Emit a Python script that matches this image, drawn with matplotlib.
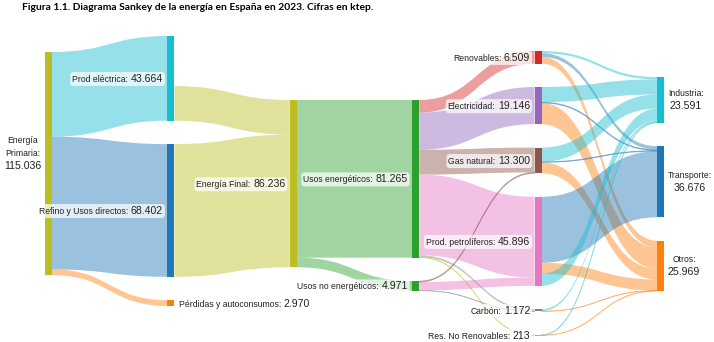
import matplotlib
matplotlib.use('Agg')
import matplotlib.pyplot as plt
from matplotlib.path import Path
from matplotlib.patches import PathPatch, Rectangle, FancyBboxPatch

TITLE = 'Figura 1.1. Diagrama Sankey de la energía en España en 2023. Cifras en ktep.'

node_names = ['Energía Primaria', 'Prod eléctrica', 'Refino y Usos directos',
              'Pérdidas y autoconsumos', 'Energía Final', 'Usos energéticos',
              'Usos no energéticos', 'Renovables', 'Electricidad', 'Gas natural',
              'Prod. petrolíferos', 'Carbón', 'Res. No Renovables',
              'Industria', 'Transporte', 'Otros']
node_column = [0, 1, 1, 1, 2, 3, 3, 4, 4, 4, 4, 4, 4, 5, 5, 5]
node_colors = ['#bcbd22', '#17becf', '#1f77b4', '#ff7f0e', '#bcbd22', '#2ca02c',
               '#2ca02c', '#d62728', '#9467bd', '#8c564b', '#e377c2', '#7f7f7f',
               '#bcbd22', '#17becf', '#1f77b4', '#ff7f0e']

# flows in ktep, listed source by source in the order they leave each node
link_source = [0, 0, 0, 1, 2, 4, 4,
               5, 5, 5, 5, 5, 5, 6, 6, 6,
               7, 7, 7, 8, 8, 8, 9, 9, 9, 10, 10, 10, 11, 11, 12, 12]
link_target = [1, 2, 3, 4, 4, 5, 6,
               7, 8, 9, 10, 11, 12, 9, 10, 11,
               13, 14, 15, 13, 14, 15, 13, 14, 15, 14, 15, 13, 13, 15, 13, 15]
link_value = [43664, 68402, 2970, 17834, 68402, 81265, 4971,
              6509, 19146, 12800, 41597, 1000, 213, 500, 4299, 172,
              1200, 1850, 3459, 7800, 450, 10896, 7300, 350, 5650,
              34026, 5670, 6200, 1000, 172, 91, 122]

# how each node's label is laid out
label_mode = ['stack_left', 'left', 'left', 'right', 'left', 'left', 'left',
              'left', 'left', 'left', 'left', 'left', 'left',
              'stack_right', 'stack_right', 'stack_right']
label_text = {0: ['Energía', 'Primaria:'], 13: ['Industria:'],
              14: ['Transporte:'], 15: ['Otros:']}

W, H = 714, 342
X0, DX, NW = 45, 122.4, 7
K = 1.94 / 1000
PAD = 23.4
col_top = [52, 36, 100, 100, 51, 77]

FONT = 'Liberation Sans'
NAME_SIZE, VALUE_SIZE = 6.2, 7.6
TXT = '#222222'


def fmt(v):
    return f'{v:,}'.replace(',', '.')


n = len(node_names)
inflow = [0] * n
outflow = [0] * n
for s, t, v in zip(link_source, link_target, link_value):
    outflow[s] += v
    inflow[t] += v
node_value = [max(a, b) for a, b in zip(inflow, outflow)]

node_x = [X0 + c * DX for c in node_column]
node_y = [0.0] * n
cursor = {}
for i in range(n):
    c = node_column[i]
    y = cursor.get(c, col_top[c])
    node_y[i] = y
    cursor[c] = y + node_value[i] * K + PAD

fig = plt.figure(figsize=(W / 100, H / 100), dpi=100)
ax = fig.add_axes([0, 0, 1, 1])
ax.set_xlim(0, W)
ax.set_ylim(H, 0)
ax.axis('off')

# links
out_pos = [node_y[i] + (node_value[i] - outflow[i]) * K for i in range(n)]
in_pos = node_y[:]
codes = [Path.MOVETO, Path.CURVE4, Path.CURVE4, Path.CURVE4, Path.LINETO,
         Path.CURVE4, Path.CURVE4, Path.CURVE4, Path.CLOSEPOLY]
for s, t, v in zip(link_source, link_target, link_value):
    h = v * K
    x0, x1 = node_x[s] + NW, node_x[t]
    y0, y1 = out_pos[s], in_pos[t]
    out_pos[s] += h
    in_pos[t] += h
    xm = (x0 + x1) / 2
    verts = [(x0, y0), (xm, y0), (xm, y1), (x1, y1), (x1, y1 + h),
             (xm, y1 + h), (xm, y0 + h), (x0, y0 + h), (x0, y0)]
    lw = 0.5 if h < 1.5 else 0
    ax.add_patch(PathPatch(Path(verts, codes), fc=node_colors[t], ec=node_colors[t],
                           lw=lw, alpha=0.45, zorder=1))

# nodes
for i in range(n):
    ax.add_patch(Rectangle((node_x[i], node_y[i]), NW, max(node_value[i] * K, 0.8),
                           fc=node_colors[i], ec='none', zorder=2))

fig.canvas.draw()
renderer = fig.canvas.get_renderer()
inv = ax.transData.inverted()


def extent(t):
    bb = t.get_window_extent(renderer)
    (xa, ya), (xb, yb) = inv.transform([(bb.x0, bb.y0), (bb.x1, bb.y1)])
    return min(xa, xb), max(xa, xb), min(ya, yb), max(ya, yb)


def add_box(exts):
    xa = min(e[0] for e in exts)
    xb = max(e[1] for e in exts)
    ya = min(e[2] for e in exts)
    yb = max(e[3] for e in exts)
    ax.add_patch(FancyBboxPatch((xa, ya), xb - xa, yb - ya,
                                boxstyle='round,pad=2,rounding_size=3',
                                fc='white', ec='none', alpha=0.72, zorder=3))


for i in range(n):
    cy = node_y[i] + node_value[i] * K / 2
    mode = label_mode[i]
    val = fmt(node_value[i])
    if mode in ('left', 'right'):
        base = cy + 3.6
        if mode == 'left':
            xa = node_x[i] - 4.5
            tv = ax.text(xa, base, val, ha='right', va='baseline', family=FONT,
                         fontsize=VALUE_SIZE, color=TXT, zorder=4)
            ev = extent(tv)
            tn = ax.text(ev[0] - 2.5, base, node_names[i] + ':', ha='right',
                         va='baseline', family=FONT, fontsize=NAME_SIZE,
                         color=TXT, zorder=4)
        else:
            xa = node_x[i] + NW + 4.5
            tn = ax.text(xa, base, node_names[i] + ':', ha='left', va='baseline',
                         family=FONT, fontsize=NAME_SIZE, color=TXT, zorder=4)
            en = extent(tn)
            tv = ax.text(en[1] + 2.5, base, val, ha='left', va='baseline',
                         family=FONT, fontsize=VALUE_SIZE, color=TXT, zorder=4)
        add_box([extent(tv), extent(tn)])
    else:
        lines = label_text[i] + [val]
        sizes = [NAME_SIZE] * (len(lines) - 1) + [VALUE_SIZE]
        step = 12.5
        top = cy - step * (len(lines) - 1) / 2
        if i == 0:
            top -= 10.5
        texts = []
        for k, (line, sz) in enumerate(zip(lines, sizes)):
            texts.append(ax.text(0, top + k * step, line, ha='center', va='center',
                                 family=FONT, fontsize=sz, color=TXT, zorder=4))
        widths = [extent(t)[1] - extent(t)[0] for t in texts]
        wmax = max(widths)
        if mode == 'stack_left':
            xc = node_x[i] - 4 - wmax / 2
        else:
            xc = node_x[i] + NW + 4 + wmax / 2
        for t in texts:
            t.set_x(xc)

ax.text(22, 8, TITLE, ha='left', va='center', family='Lato', fontweight='bold',
        fontsize=7.4, color='black')

fig.savefig('out.png', dpi=100)
